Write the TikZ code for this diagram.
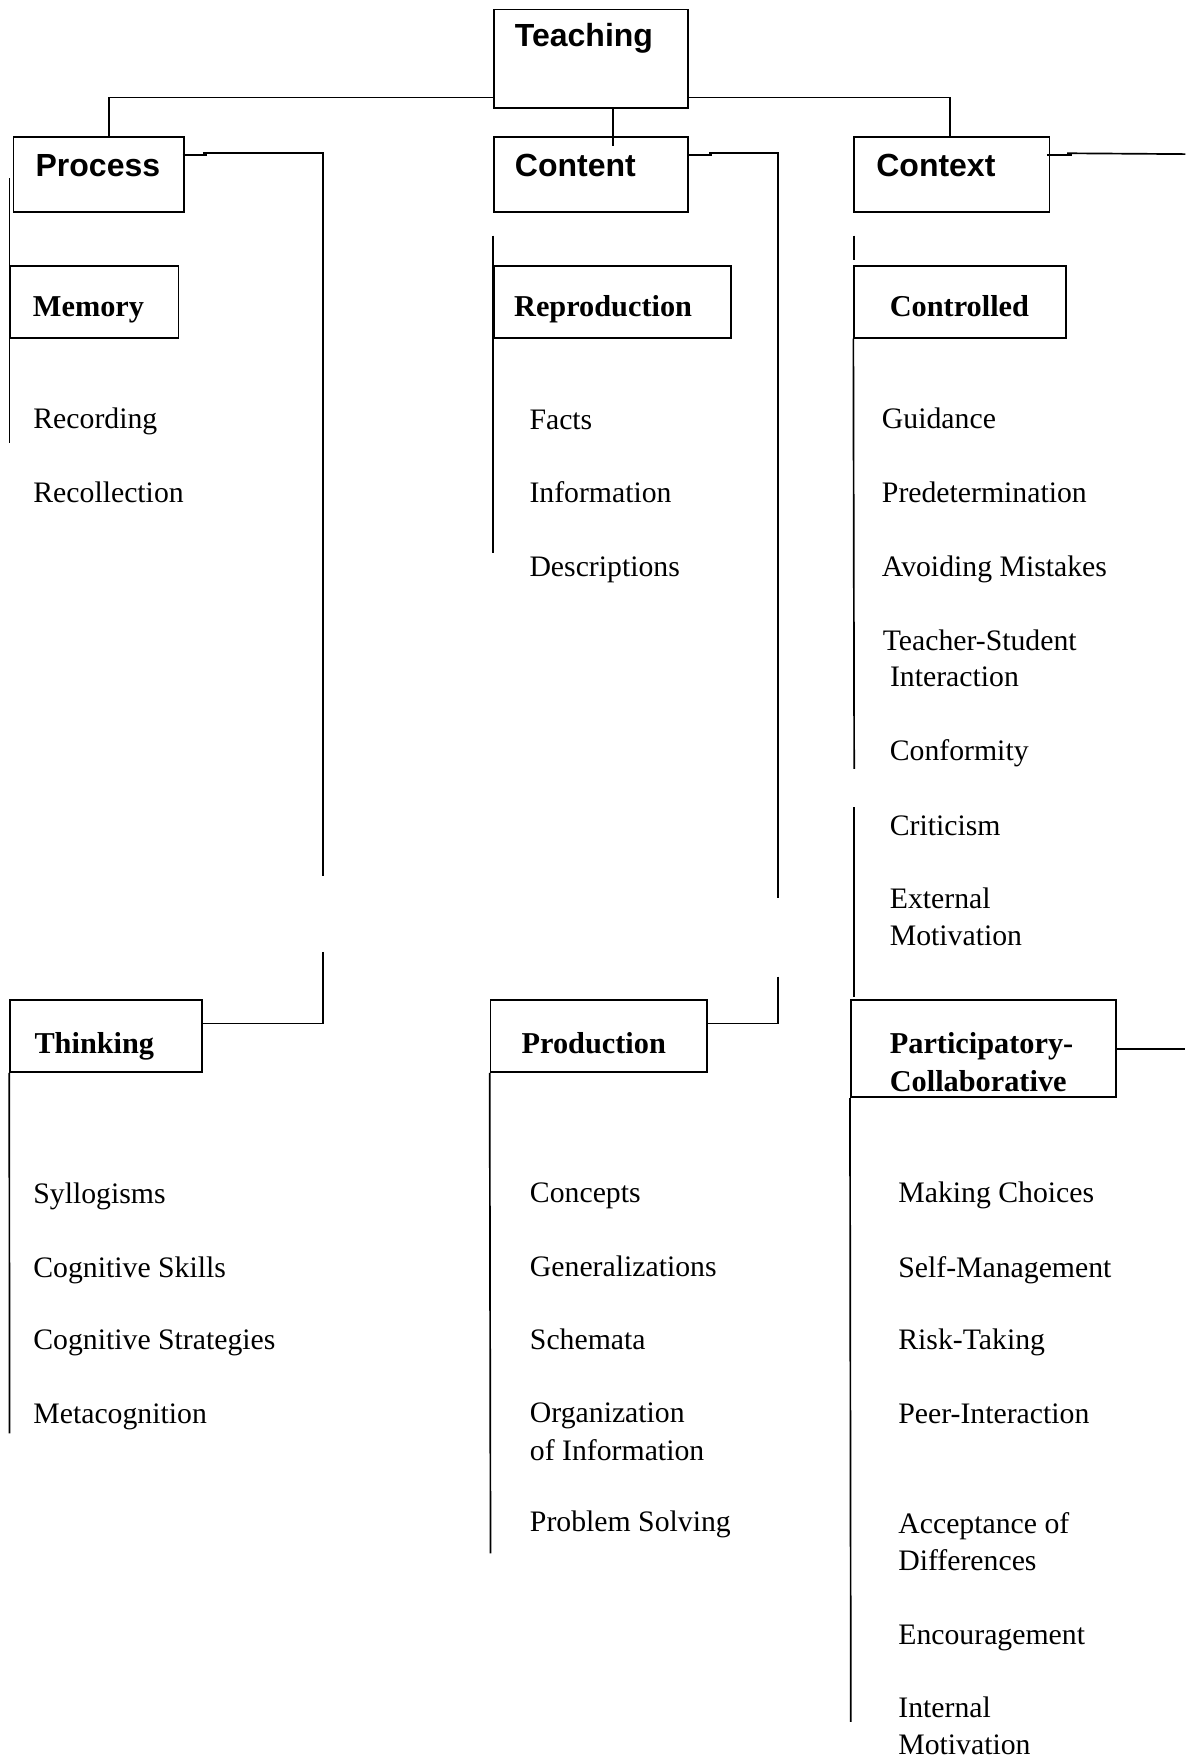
\documentclass[tikz,border=0pt]{standalone}
\usepackage{fontspec}
\setmainfont{Liberation Serif}
\newfontfamily\hsans{Liberation Sans}
\usetikzlibrary{fit,calc}
\begin{document}
\begin{tikzpicture}[x=0.5pt,y=-0.5pt,line width=0.75pt,
  box/.style={draw,inner sep=0pt},
  head/.style={anchor=base west,inner sep=0pt,font=\hsans\bfseries\fontsize{14.25pt}{17pt}\selectfont},
  sub/.style={anchor=base west,inner sep=0pt,font=\bfseries\fontsize{13.5pt}{16.5pt}\selectfont},
  item/.style={anchor=base west,inner sep=0pt,font=\fontsize{13.25pt}{16.5pt}\selectfont},
  link/.style={draw}]
\fill[white] (0,0) rectangle (1056,1568);
\useasboundingbox (0,0) rectangle (1056,1568);

% boxes
\node[box,fit={(440,8.5)(613,96.5)}] (teach) {};
\node[box,fit={(12,122)(164,189)}] (proc) {};
\node[box,fit={(440,122)(613,189)}] (cont) {};
\node[box,fit={(761,122)(935,189)}] (ctx) {};
\node[box,fit={(9,237)(159,301)}] (mem) {};
\node[box,fit={(440,237)(651,301)}] (repr) {};
\node[box,fit={(761,237)(950,301)}] (ctrl) {};
\node[box,fit={(9,891)(180,955)}] (think) {};
\node[box,fit={(437,891)(630,955)}] (prod) {};
\node[box,fit={(758,891)(994,977.5)}] (part) {};

% headings
\node[head] (tTeach) at (458,41.6) {Teaching};
\node[head] (tProc) at (31,157.4) {Process};
\node[head] (tCont) at (458,157.4) {Content};
\node[head] (tCtx) at (780,157.4) {Context};
\node[sub] (tMem) at (28.6,282.2) {Memory};
\node[sub] (tRepr) at (457.3,282.2) {Reproduction};
\node[sub] (tCtrl) at (792,282.2) {Controlled};
\node[sub] (tThink) at (30,938.5) {Thinking};
\node[sub] (tProd) at (464,938.5) {Production};
\node[sub] (tPart1) at (792,938.6) {Participatory-};
\node[sub] (tPart2) at (792,972.8) {Collaborative};

% items: process
\node[item] (i1) at (29,381.7) {Recording};
\node[item] (i2) at (29,448) {Recollection};
\node[item] (i3) at (29,1072.3) {Syllogisms};
\node[item] (i4) at (29,1137.7) {Cognitive Skills};
\node[item] (i5) at (29,1202) {Cognitive Strategies};
\node[item] (i6) at (29,1267.8) {Metacognition};
% items: content
\node[item] (j1) at (471,382.6) {Facts};
\node[item] (j2) at (471,448) {Information};
\node[item] (j3) at (471,513.3) {Descriptions};
\node[item] (j4) at (471.4,1071.7) {Concepts};
\node[item] (j5) at (471.4,1137) {Generalizations};
\node[item] (j6) at (471.4,1202) {Schemata};
\node[item] (j7) at (471.4,1266.9) {Organization};
\node[item] (j8) at (471.4,1301) {of Information};
\node[item] (j9) at (471.4,1364.3) {Problem Solving};
% items: context
\node[item] (k1) at (785,381.7) {Guidance};
\node[item] (k2) at (785,448) {Predetermination};
\node[item] (k3) at (785,513.9) {Avoiding Mistakes};
\node[item] (k4) at (785.7,579.8) {Teacher-Student};
\node[item] (k5) at (792.2,611.9) {Interaction};
\node[item] (k6) at (792,677.2) {Conformity};
\node[item] (k7) at (792,744) {Criticism};
\node[item] (k8) at (792,809.4) {External};
\node[item] (k9) at (792,842) {Motivation};
\node[item] (m1) at (799.6,1071.7) {Making Choices};
\node[item] (m2) at (799.6,1137.7) {Self-Management};
\node[item] (m3) at (799.6,1202) {Risk-Taking};
\node[item] (m4) at (799.6,1267.8) {Peer-Interaction};
\node[item] (m5) at (799.6,1365.8) {Acceptance of};
\node[item] (m6) at (799.6,1399) {Differences};
\node[item] (m7) at (799.6,1465.3) {Encouragement};
\node[item] (m8) at (799.6,1530.3) {Internal};
\node[item] (m9) at (799.6,1563) {Motivation};

% free ends
\coordinate (pA) at (287.5,780);
\coordinate (pB) at (287.5,848);
\coordinate (cA) at (693,800);
\coordinate (cB) at (693,870);
\coordinate (rEdge1) at (1056,137.3);
\coordinate (rEdge2) at (1056,934.25);
\coordinate (v1a) at (8.5,159);   \coordinate (v1b) at (8.5,394.6);
\coordinate (v2a) at (439.5,210); \coordinate (v2b) at (439.5,492.5);
\coordinate (v3a) at (761,210);   \coordinate (v3b) at (761,231.7);
\coordinate (v4b) at (761,685);
\coordinate (v5a) at (761,719);   \coordinate (v5b) at (761,888);
\coordinate (v6b) at (8.5,1277);
\coordinate (v7b) at (437,1384);
\coordinate (v8b) at (758,1534);

% top-level connectors
\draw[link] ($(teach.south west)+(0,-10.5)$) -| ($(proc.north west)+(86,0)$);
\draw[link] ($(teach.south west)+(107,0)$) -- ($(cont.north west)+(107,9)$);
\draw[link] ($(teach.south east)+(0,-10.5)$) -| ($(ctx.north west)+(86,0)$);

% process -> thinking
\draw[link] ($(proc.north east)+(-2,16.7)$) -- ++(22,0);
\draw[link] ($(proc.north east)+(16,15.3)$) -| (pA);
\draw[link] (pB) |- ($(think.north east)+(0,21.5)$);
% content -> production
\draw[link] ($(cont.north east)+(-1,16.7)$) -- ++(22,0);
\draw[link] ($(cont.north east)+(18,15.3)$) -| (cA);
\draw[link] (cB) |- ($(prod.north east)+(0,21.5)$);
% context -> right
\draw[link] ($(ctx.north east)+(-3,16.7)$) -- ++(22,0);
\draw[link] ($(ctx.north east)+(15,15.3)$) -- (rEdge1);
\draw[link] (part.east) -- (rEdge2);

% side rules
\draw[link] (v1a) -- (v1b);
\draw[link] (v2a) -- (v2b);
\draw[link] (v3a) -- (v3b);
\draw[link] (ctrl.south west) -- (v4b);
\draw[link] (v5a) -- (v5b);
\draw[link] (think.south west) -- (v6b);
\draw[link] (prod.south west) -- (v7b);
\draw[link] (part.south west) -- (v8b);
\end{tikzpicture}
\end{document}
